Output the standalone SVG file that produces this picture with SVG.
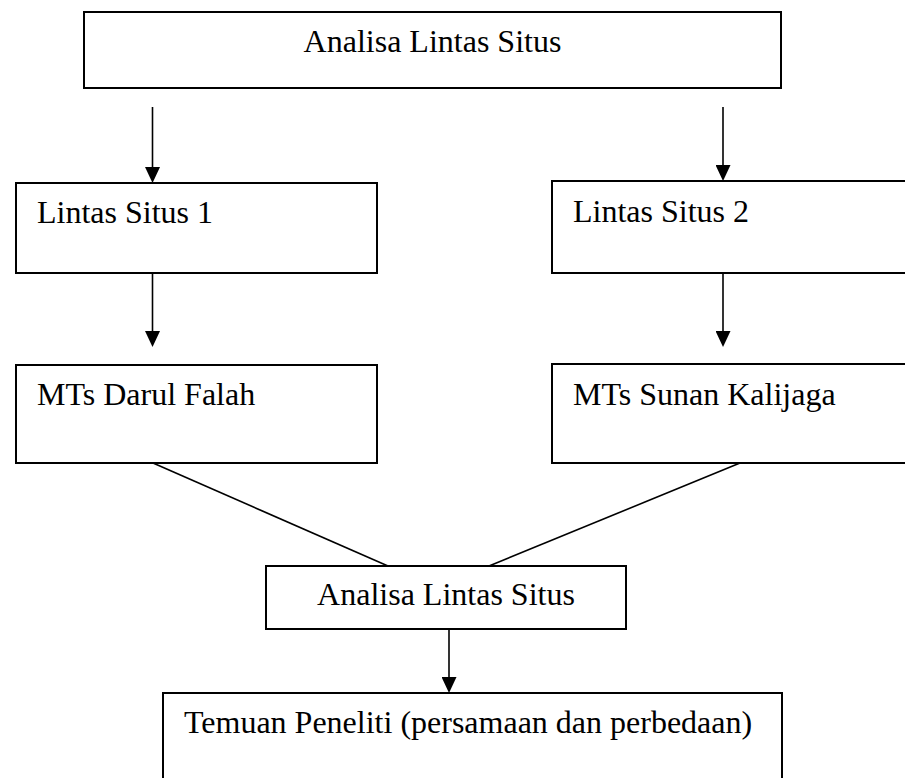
<svg xmlns="http://www.w3.org/2000/svg" width="905" height="778" viewBox="0 0 905 778">
<style>
.box{fill:#fff;stroke:#000;stroke-width:2}
.lbl{font-family:"Liberation Serif","Times New Roman",serif;font-size:32px;fill:#000}
.con{stroke:#000;stroke-width:1.6;fill:none}
</style>
<defs>
<marker id="ah" viewBox="0 0 16 15" refX="6" refY="7.5" markerWidth="16" markerHeight="15" markerUnits="userSpaceOnUse" orient="auto">
<path d="M0,0 L16,7.5 L0,15 z" fill="#000"/>
</marker>
</defs>
<rect width="905" height="778" fill="#fff"/>
<g id="n-top">
<rect class="box" x="84" y="12" width="697" height="76"/>
<text class="lbl" x="432.5" y="52" text-anchor="middle">Analisa Lintas Situs</text>
</g>
<g id="n-situs1">
<rect class="box" x="16" y="183" width="361" height="90"/>
<text class="lbl" x="37" y="223">Lintas Situs 1</text>
</g>
<g id="n-situs2">
<rect class="box" x="552" y="181" width="370" height="92"/>
<text class="lbl" x="573" y="222">Lintas Situs 2</text>
</g>
<g id="n-darul">
<rect class="box" x="16" y="365" width="361" height="98"/>
<text class="lbl" x="37" y="405">MTs Darul Falah</text>
</g>
<g id="n-sunan">
<rect class="box" x="552" y="364" width="370" height="99"/>
<text class="lbl" x="573" y="405">MTs Sunan Kalijaga</text>
</g>
<g id="n-analisa2">
<rect class="box" x="266" y="566" width="360" height="63"/>
<text class="lbl" x="446" y="605" text-anchor="middle">Analisa Lintas Situs</text>
</g>
<g id="n-temuan">
<rect class="box" x="163" y="693" width="619" height="100"/>
<text class="lbl" x="184" y="733">Temuan Peneliti (persamaan dan perbedaan)</text>
</g>
<g id="connectors">
<line class="con" x1="152.5" y1="107" x2="152.5" y2="173" marker-end="url(#ah)"/>
<line class="con" x1="723" y1="107" x2="723" y2="171" marker-end="url(#ah)"/>
<line class="con" x1="152.5" y1="273" x2="152.5" y2="337" marker-end="url(#ah)"/>
<line class="con" x1="723" y1="273" x2="723" y2="337" marker-end="url(#ah)"/>
<line class="con" x1="449" y1="629" x2="449" y2="683" marker-end="url(#ah)"/>
<line class="con" x1="153" y1="463" x2="388" y2="566"/>
<line class="con" x1="740" y1="463" x2="489" y2="566"/>
</g>
</svg>
